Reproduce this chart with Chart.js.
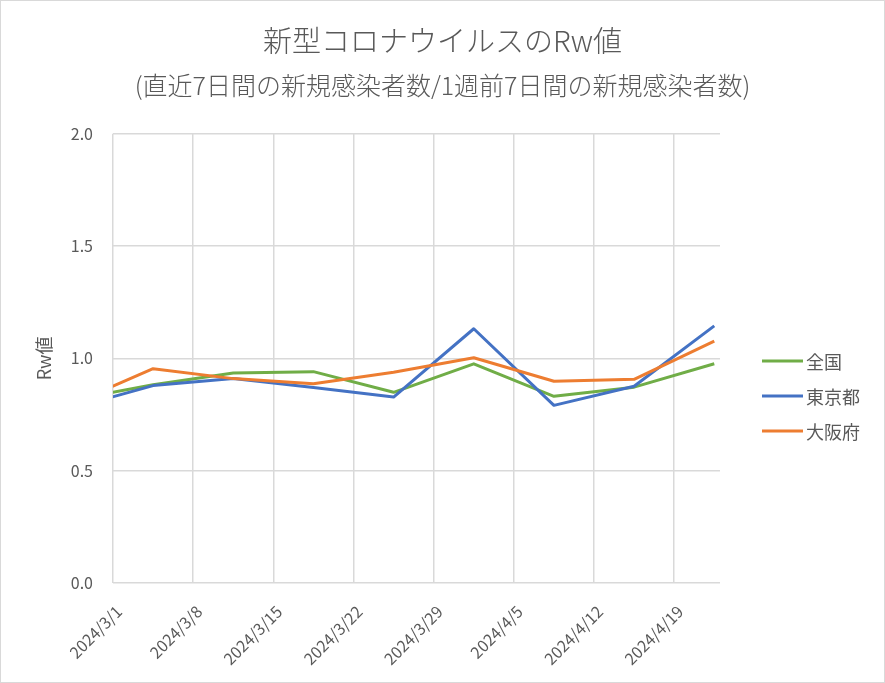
<!DOCTYPE html>
<html lang="ja">
<head>
<meta charset="utf-8">
<title>新型コロナウイルスのRw値</title>
<script src="https://cdn.jsdelivr.net/npm/chart.js@4.4.1/dist/chart.umd.min.js"></script>
<style>
    body { margin: 0; background: #fff; }
    #contenedor { width: 885px; height: 683px; }
</style>
</head>
<body>
<div id="contenedor"><canvas id="grafica" width="885" height="683"></canvas></div>
<script>
// Datos semanales (lunes); el primer punto queda fuera del eje y se recorta
const fechas = ['2024/2/26', '2024/3/4', '2024/3/11', '2024/3/18', '2024/3/25', '2024/4/1', '2024/4/8', '2024/4/15', '2024/4/22'];
const zenkoku = [0.815, 0.883, 0.935, 0.941, 0.849, 0.976, 0.831, 0.872, 0.976];
const tokio = [0.780, 0.879, 0.910, 0.870, 0.828, 1.132, 0.791, 0.876, 1.145];
const osaka = [0.800, 0.954, 0.910, 0.887, 0.938, 1.003, 0.898, 0.907, 1.077];

const nombresSeries = ['全国', '東京都', '大阪府'];
const etiquetasEje = ['2024/3/1', '2024/3/8', '2024/3/15', '2024/3/22', '2024/3/29', '2024/4/5', '2024/4/12', '2024/4/19'];
const finEje = '2024/4/23';

const titulo = '新型コロナウイルスのRw値';
const subtitulo = '(直近7日間の新規感染者数/1週前7日間の新規感染者数)';
const tituloEjeY = 'Rw値';

const colores = ['#70ad47', '#4472c4', '#ed7d31'];
const gris = '#595959';
const rejilla = '#d9d9d9';
const fuente = "'Noto Sans CJK JP', 'Noto Sans', sans-serif";

// días desde el inicio del eje
function dia(fecha) {
    const [a, m, d] = fecha.split('/').map(Number);
    const [a0, m0, d0] = etiquetasEje[0].split('/').map(Number);
    return (Date.UTC(a, m - 1, d) - Date.UTC(a0, m0 - 1, d0)) / 86400000;
}

function puntos(valores) {
    // Excel centra cada punto en su día
    return fechas.map((f, i) => ({ x: dia(f) + 0.5, y: valores[i] }));
}

const fondoYBorde = {
    id: 'fondoYBorde',
    beforeDraw(chart) {
        const ctx = chart.ctx;
        ctx.save();
        ctx.fillStyle = '#fff';
        ctx.fillRect(0, 0, chart.width, chart.height);
        ctx.strokeStyle = rejilla;
        ctx.lineWidth = 1;
        ctx.strokeRect(0.5, 0.5, chart.width - 1, chart.height - 1);
        ctx.restore();
    }
};

// leyenda a la derecha, como en Excel
const leyenda = {
    id: 'leyenda',
    afterDraw(chart) {
        const ctx = chart.ctx;
        ctx.save();
        ctx.font = `18px ${fuente}`;
        ctx.textBaseline = 'middle';
        ctx.fillStyle = gris;
        nombresSeries.forEach((nombre, i) => {
            const y = 361 + i * 35;
            ctx.strokeStyle = colores[i];
            ctx.lineWidth = 3;
            ctx.beginPath();
            ctx.moveTo(762, y);
            ctx.lineTo(803, y);
            ctx.stroke();
            ctx.fillText(nombre, 806, y + 1);
        });
        ctx.restore();
    }
};

Chart.defaults.font.family = fuente;
Chart.defaults.color = gris;

const series = [zenkoku, tokio, osaka];

new Chart(document.getElementById('grafica').getContext('2d'), {
    type: 'line',
    data: {
        datasets: series.map((valores, i) => ({
            label: nombresSeries[i],
            data: puntos(valores),
            borderColor: colores[i],
            backgroundColor: colores[i],
            borderWidth: 3,
            borderJoinStyle: 'round',
            pointRadius: 0,
            tension: 0,
            clip: 0,
            order: series.length - i
        }))
    },
    options: {
        responsive: false,
        devicePixelRatio: 1,
        animation: false,
        layout: { padding: 0 },
        plugins: {
            legend: { display: false },
            tooltip: { enabled: false },
            title: {
                display: true,
                text: titulo,
                color: gris,
                font: { size: 29, weight: '300' },
                padding: { top: 24, bottom: 12 }
            },
            subtitle: {
                display: true,
                text: subtitulo,
                color: gris,
                font: { size: 25, weight: '300' },
                padding: { top: 0, bottom: 33 }
            }
        },
        scales: {
            x: {
                type: 'linear',
                min: dia(etiquetasEje[0]),
                max: dia(finEje),
                afterBuildTicks: (eje) => {
                    eje.ticks = etiquetasEje.map(e => ({ value: dia(e) }));
                },
                afterFit: (eje) => { eje.height = 100; },
                ticks: {
                    minRotation: 45,
                    maxRotation: 45,
                    padding: 19,
                    labelOffset: 6,
                    font: { size: 16 },
                    callback: (valor, indice) => etiquetasEje[indice]
                },
                grid: { color: rejilla, lineWidth: 1.5, drawTicks: false },
                border: { display: false }
            },
            y: {
                min: 0,
                max: 2,
                afterFit: (eje) => { eje.width = 113; },
                ticks: {
                    stepSize: 0.5,
                    padding: 20,
                    font: { size: 16 },
                    callback: (valor) => valor.toFixed(1)
                },
                title: {
                    display: true,
                    text: tituloEjeY,
                    color: gris,
                    font: { size: 18 },
                    padding: { top: 33, bottom: 0 }
                },
                grid: { color: rejilla, lineWidth: 1.5, drawTicks: false },
                border: { display: false }
            },
            // hueco a la derecha para la leyenda
            derecha: {
                position: 'right',
                afterFit: (eje) => { eje.width = 165; },
                ticks: { display: false },
                grid: { display: false },
                border: { display: false }
            }
        }
    },
    plugins: [fondoYBorde, leyenda]
});
</script>
</body>
</html>
